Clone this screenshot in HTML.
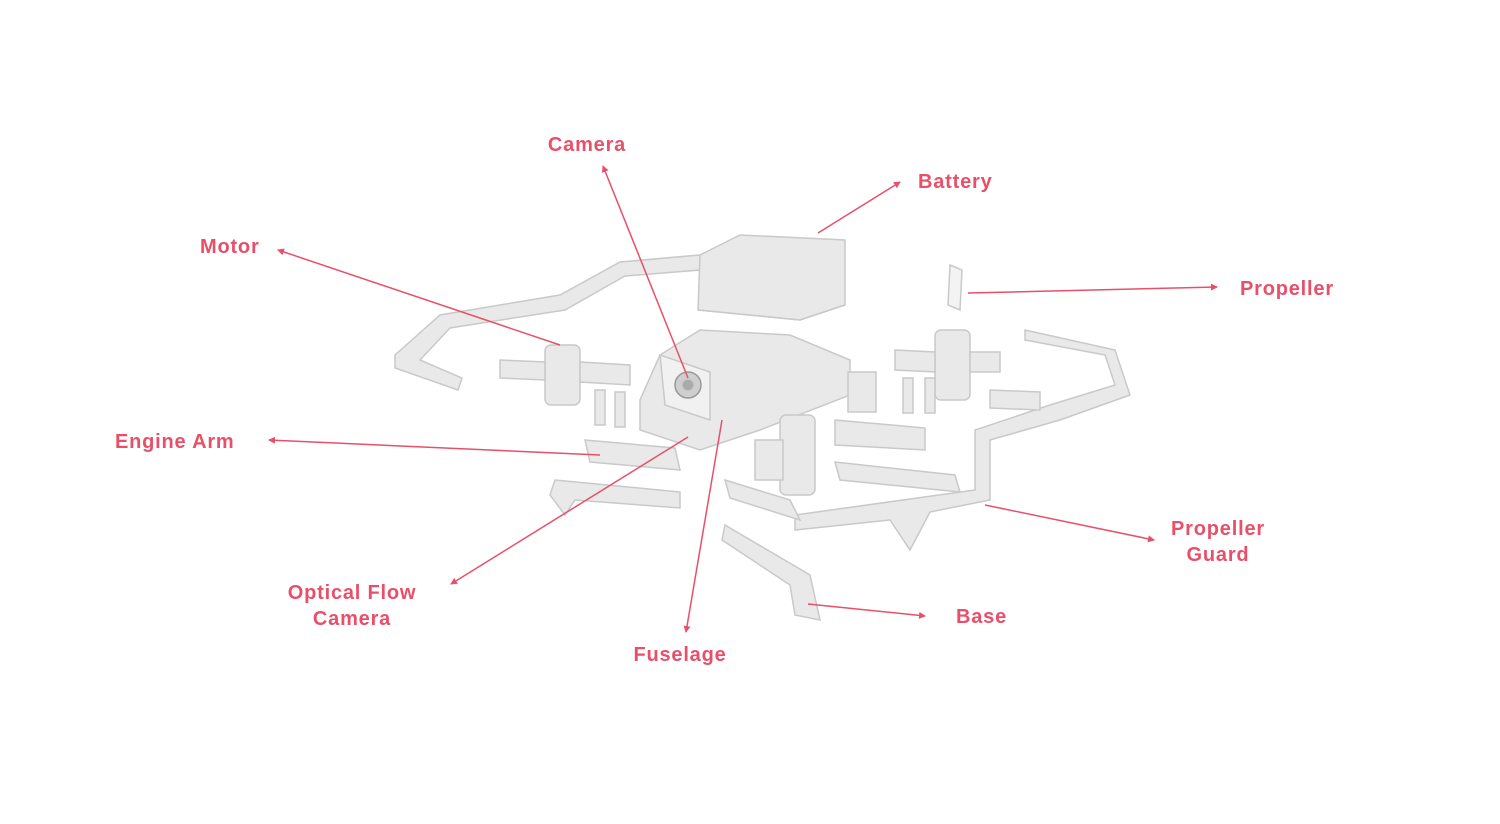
<!DOCTYPE html>
<html><head><style>
body{margin:0;width:1500px;height:824px;background:#fff;overflow:hidden}
svg{position:absolute;left:0;top:0}
text{font-family:"Liberation Sans",sans-serif;font-weight:bold;font-size:20px;fill:#e8506a;letter-spacing:0.8px}
</style></head><body>
<svg width="1500" height="824" viewBox="0 0 1500 824">
<defs><marker id="a" markerWidth="7" markerHeight="7" refX="6" refY="3.5" orient="auto" markerUnits="userSpaceOnUse"><path d="M0,0 L7,3.5 L0,7 z" fill="#e8506a"/></marker></defs>
<g fill="#e9e9e9" stroke="#c9c9c9" stroke-width="1.5">
<path d="M395,355 L440,315 L560,295 L620,262 L700,255 L700,270 L625,276 L565,310 L450,328 L420,360 L462,378 L458,390 L395,368 z"/>
<path d="M700,255 L740,235 L845,240 L845,305 L800,320 L698,310 z"/>
<path d="M698,310 L800,320 L845,305" fill="none"/>
<path d="M660,355 L700,330 L790,335 L850,360 L850,395 L760,430 L700,450 L640,430 L640,400 z"/>
<path d="M660,355 L710,372 L710,420 L665,405 z" fill="#f1f1f1"/>
<circle cx="688" cy="385" r="13" fill="#cfcfcf" stroke="#999"/>
<circle cx="688" cy="385" r="6" fill="#aaa"/>
<rect x="545" y="345" width="35" height="60" rx="6"/>
<path d="M500,360 L545,362 L545,380 L500,378 z"/>
<path d="M580,362 L630,365 L630,385 L580,382 z"/>
<rect x="595" y="390" width="10" height="35"/><rect x="615" y="392" width="10" height="35"/>
<rect x="935" y="330" width="35" height="70" rx="6"/>
<path d="M895,350 L935,352 L935,372 L895,370 z"/>
<path d="M970,352 L1000,352 L1000,372 L970,372 z"/>
<rect x="903" y="378" width="10" height="35"/><rect x="925" y="378" width="10" height="35"/>
<path d="M950,265 L962,270 L960,310 L948,305 z" fill="#f3f3f3"/>
<rect x="848" y="372" width="28" height="40"/>
<rect x="780" y="415" width="35" height="80" rx="6"/>
<rect x="755" y="440" width="28" height="40"/>
<path d="M585,440 L675,448 L680,470 L590,462 z"/>
<path d="M835,420 L925,428 L925,450 L835,445 z"/>
<path d="M555,480 L680,492 L680,508 L575,500 L565,515 L550,495 z"/>
<path d="M835,462 L955,475 L960,492 L840,480 z"/>
<path d="M1025,330 L1115,350 L1130,395 L1060,420 L990,440 L990,500 L930,512 L910,550 L890,520 L795,530 L795,515 L975,490 L975,430 L1050,405 L1115,385 L1105,355 L1025,340 z"/>
<path d="M990,390 L1040,392 L1040,410 L990,408 z"/>
<path d="M725,480 L790,500 L800,520 L730,498 z"/>
<path d="M725,525 L810,575 L820,620 L795,615 L790,585 L722,540 z"/>
</g>
<g stroke="#e8506a" stroke-width="1.5" fill="none" marker-end="url(#a)">
<line x1="688" y1="378" x2="603" y2="166"/>
<line x1="818" y1="233" x2="900" y2="182"/>
<line x1="560" y1="345" x2="278" y2="250"/>
<line x1="968" y1="293" x2="1217" y2="287"/>
<line x1="600" y1="455" x2="269" y2="440"/>
<line x1="688" y1="437" x2="451" y2="584"/>
<line x1="722" y1="420" x2="686" y2="632"/>
<line x1="808" y1="604" x2="925" y2="616"/>
<line x1="985" y1="505" x2="1154" y2="540"/>
</g>
<text x="587" y="151" text-anchor="middle">Camera</text>
<text x="918" y="188">Battery</text>
<text x="200" y="253">Motor</text>
<text x="1240" y="295">Propeller</text>
<text x="115" y="448">Engine Arm</text>
<text x="352" y="599" text-anchor="middle">Optical Flow</text>
<text x="352" y="625" text-anchor="middle">Camera</text>
<text x="680" y="661" text-anchor="middle">Fuselage</text>
<text x="956" y="623">Base</text>
<text x="1218" y="535" text-anchor="middle">Propeller</text>
<text x="1218" y="561" text-anchor="middle">Guard</text>
</svg>
</body></html>
